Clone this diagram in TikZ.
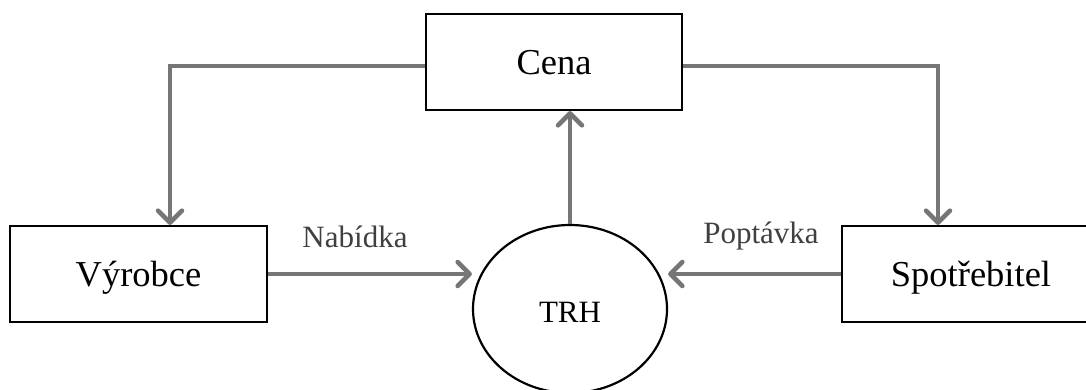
\documentclass[tikz,border=0pt]{standalone}
\usepackage{fontspec}
\setmainfont{Liberation Serif}
\usetikzlibrary{arrows.meta,shapes.geometric}
\definecolor{linegray}{HTML}{767676}
\definecolor{labelgray}{HTML}{404040}
\tikzset{
  bigbox/.style={draw=black, line width=2.2pt, rectangle, inner sep=0pt,
    minimum height=96pt, text height=25pt, text depth=0pt,
    font=\fontsize{36.5}{40}\selectfont},
  market/.style={draw=black, line width=2.2pt, ellipse, inner sep=0pt,
    minimum width=194pt, minimum height=168pt, text height=26pt, text depth=0pt,
    font=\fontsize{31}{34}\selectfont},
  flow/.style={draw=linegray, line width=3.2pt,
    -{Straight Barb[length=12pt,width=24pt,line width=4.5pt,line cap=round,round]}},
  flowlabel/.style={anchor=base, text=labelgray, inner sep=0pt,
    font=\fontsize{31}{34}\selectfont}
}
\begin{document}
\begin{tikzpicture}[x=1pt,y=-1pt]
\clip (0,0) rectangle (1086,389);
\node[bigbox, minimum width=256pt] (cena) at (554,62) {Cena};
\node[bigbox, minimum width=257pt] (vyr) at (138.5,274) {Výrobce};
\node[bigbox, minimum width=258pt] (spo) at (971,274) {Spotřebitel};
\node[market] (trh) at (570,309) {TRH};
\node[flowlabel] (nab) at (355,247) {Nabídka};
\node[flowlabel] (pop) at (761,243) {Poptávka};
\draw[flow] ([yshift=-4pt]cena.west) -| ([xshift=31.5pt]vyr.north);
\draw[flow] ([yshift=-4pt]cena.east) -| ([xshift=-33pt]spo.north);
\draw[flow] (trh.north) -- (trh.north |- cena.south);
\draw[flow] (vyr.east) -- (trh.west |- vyr.east);
\draw[flow] (spo.west) -- (trh.east |- spo.west);
\end{tikzpicture}
\end{document}
